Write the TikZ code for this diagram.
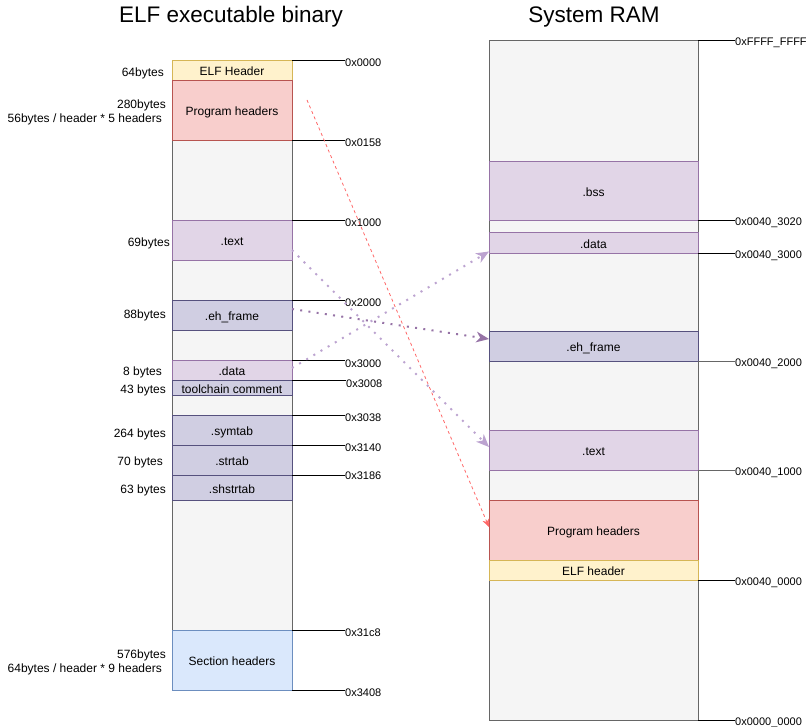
\documentclass[tikz,border=0pt]{standalone}
\usepackage{fontspec}
\setmainfont{Liberation Sans}
\usetikzlibrary{arrows.meta}
\definecolor{gfill}{HTML}{F5F5F5}
\definecolor{gdraw}{HTML}{666666}
\definecolor{yfill}{HTML}{FFF2CC}
\definecolor{ydraw}{HTML}{D6B656}
\definecolor{rfill}{HTML}{F8CECC}
\definecolor{rdraw}{HTML}{B85450}
\definecolor{pfill}{HTML}{E1D5E7}
\definecolor{pdraw}{HTML}{9673A6}
\definecolor{vfill}{HTML}{D0CEE2}
\definecolor{vdraw}{HTML}{56517E}
\definecolor{bfill}{HTML}{DAE8FC}
\definecolor{bdraw}{HTML}{6C8EBF}
\definecolor{lpurple}{HTML}{BCA3D0}
\definecolor{redline}{HTML}{FF6666}
\begin{document}
\begin{tikzpicture}[x=1pt,y=-1pt,
  box/.style={inner sep=0pt, outer sep=0pt, font=\fontsize{12}{14}\selectfont, line width=0.75pt,
     text height=11.5pt, text depth=0pt},
  lbox/.style={box, minimum width=120pt},
  rbox/.style={box, minimum width=209pt},
  gray box/.style={fill=gfill, draw=gdraw},
  yel/.style={fill=yfill, draw=ydraw},
  red box/.style={fill=rfill, draw=rdraw},
  pur/.style={fill=pfill, draw=pdraw},
  vio/.style={fill=vfill, draw=vdraw},
  blu/.style={fill=bfill, draw=bdraw},
  addr/.style={anchor=west, inner sep=0pt, font=\fontsize{11}{13}\selectfont},
  size/.style={anchor=east, inner sep=0pt, align=right, font=\fontsize{12}{14}\selectfont},
  tick/.style={line width=0.9pt, black},
  gtick/.style={line width=0.9pt, gdraw},
  title/.style={inner sep=0pt, font=\fontsize{22.5}{27}\selectfont},
  dotarrow/.style={line width=2pt, lpurple, dash pattern=on 2pt off 6.3pt,
     -{Stealth[length=13pt, width=11pt, inset=4pt, line width=0pt]}},
  dotarrowdark/.style={dotarrow, pdraw},
  redarrow/.style={line width=0.8pt, redline, dash pattern=on 3pt off 3pt,
     -{Stealth[length=8pt, width=7pt, inset=2.5pt]}}
]
\useasboundingbox (0,0) rectangle (806,727);

% titles
\node[title] (t1) at (231,17) {ELF executable binary};
\node[title] (t2) at (594,17) {System RAM};

% ---- ELF binary column ----
\node[lbox, gray box, minimum height=630pt] (bin) at (232,375) {};
\node[lbox, yel, minimum height=20pt] (elf) at (232,70) {ELF Header};
\node[lbox, red box, minimum height=60pt] (prog) at (232,110) {Program headers};
\node[lbox, pur, minimum height=40pt] (text) at (232,240) {.text};
\node[lbox, vio, minimum height=30pt] (ehf) at (232,315) {.eh\_frame};
\node[lbox, pur, minimum height=20pt] (data) at (232,370) {.data};
\node[lbox, vio, minimum height=15pt] (tool) at (232,387.5) {toolchain comment};
\node[lbox, vio, minimum height=30pt] (symtab) at (232,430) {.symtab};
\node[lbox, vio, minimum height=30pt] (strtab) at (232,460) {.strtab};
\node[lbox, vio, minimum height=25pt] (shstr) at (232,487.5) {.shstrtab};
\node[lbox, blu, minimum height=60pt] (sh) at (232,660) {Section headers};

% size labels
\node[size] (s1) at (164,73) {64bytes};
\node[size] (s2) at (166,112) {280bytes\\56bytes / header * 5 headers\kern4pt};
\node[size] (s3) at (170,243) {69bytes};
\node[size] (s4) at (166,315) {88bytes};
\node[size] (s5) at (162,372) {8 bytes};
\node[size] (s6) at (166,390) {43 bytes};
\node[size] (s7) at (166,434) {264 bytes};
\node[size] (s8) at (163,462) {70 bytes};
\node[size] (s9) at (166,490) {63 bytes};
\node[size] (s10) at (166,662) {576bytes\\64bytes / header * 9 headers\kern4pt};

% addresses (binary)
\node[addr] (a1) at (345,62.5) {0x0000};
\node[addr] (a2) at (345,142.5) {0x0158};
\node[addr] (a3) at (345,222.5) {0x1000};
\node[addr] (a4) at (345,302.5) {0x2000};
\node[addr] (a5) at (345,363.5) {0x3000};
\node[addr] (a6) at (346,383.5) {0x3008};
\node[addr] (a7) at (345,417.5) {0x3038};
\node[addr] (a8) at (345,447.5) {0x3140};
\node[addr] (a9) at (345,475.5) {0x3186};
\node[addr] (a10) at (345,632.5) {0x31c8};
\node[addr] (a11) at (345,692.5) {0x3408};
\draw[tick] (elf.north east) -- (elf.north east -| a1.west);
\draw[tick] (prog.south east) -- (prog.south east -| a2.west);
\draw[tick] (text.north east) -- (text.north east -| a3.west);
\draw[tick] (ehf.north east) -- (ehf.north east -| a4.west);
\draw[tick] (data.north east) -- (data.north east -| a5.west);
\draw[tick] (tool.north east) -- (tool.north east -| a6.west);
\draw[tick] (symtab.north east) -- (symtab.north east -| a7.west);
\draw[tick] (strtab.north east) -- (strtab.north east -| a8.west);
\draw[tick] (shstr.north east) -- (shstr.north east -| a9.west);
\draw[tick] (sh.north east) -- (sh.north east -| a10.west);
\draw[tick] (sh.south east) -- (sh.south east -| a11.west);

% ---- RAM column ----
\node[rbox, gray box, minimum height=680pt] (ram) at (593.5,380) {};
\node[rbox, pur, minimum height=59pt] (bss) at (593.5,190.5) {.bss};
\node[rbox, pur, minimum height=21pt] (rdata) at (593.5,242.5) {.data};
\node[rbox, vio, minimum height=30pt] (reh) at (593.5,346) {.eh\_frame};
\node[rbox, pur, minimum height=40pt] (rtext) at (593.5,450) {.text};
\node[rbox, red box, minimum height=60pt] (rprog) at (593.5,530) {Program headers};
\node[rbox, yel, minimum height=20pt] (relf) at (593.5,570) {ELF header};

\node[addr] (b1) at (735,42.5) {0xFFFF\_FFFF};
\node[addr] (b2) at (735,222.5) {0x0040\_3020};
\node[addr] (b3) at (735,255.5) {0x0040\_3000};
\node[addr] (b4) at (735,363.5) {0x0040\_2000};
\node[addr] (b5) at (735,472.5) {0x0040\_1000};
\node[addr] (b6) at (735,582.5) {0x0040\_0000};
\node[addr] (b7) at (735,722.5) {0x0000\_0000};
\draw[tick] (ram.north east) -- (ram.north east -| b1.west);
\draw[tick] (bss.south east) -- (bss.south east -| b2.west);
\draw[tick] (rdata.south east) -- (rdata.south east -| b3.west);
\draw[gtick] (reh.south east) -- (reh.south east -| b4.west);
\draw[gtick] (rtext.south east) -- (rtext.south east -| b5.west);
\draw[tick] (relf.south east) -- (relf.south east -| b6.west);
\draw[tick] (ram.south east) -- (ram.south east -| b7.west);

% ---- mapping arrows ----
\coordinate (redstart) at (307,100);
\draw[redarrow] (redstart) -- ([yshift=3pt]rprog.west);
\draw[dotarrow] ([yshift=-10pt]text.east) -- ([yshift=3pt]rtext.west);
\draw[dotarrow] ([yshift=2pt]data.east) -- ([yshift=-9pt]rdata.west);
\draw[dotarrowdark] ([yshift=6pt]ehf.east) -- ([yshift=7pt]reh.west);
\end{tikzpicture}
\end{document}
